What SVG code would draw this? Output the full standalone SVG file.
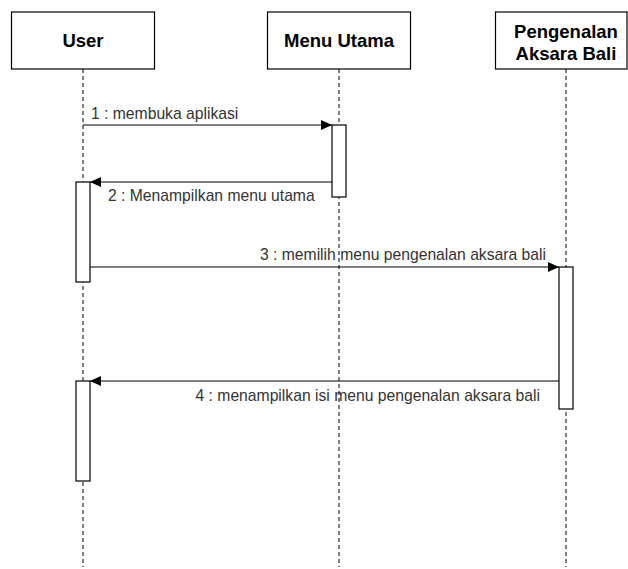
<svg xmlns="http://www.w3.org/2000/svg" width="628" height="569" viewBox="0 0 628 569">
<defs>
<style>
.box{fill:#fff;stroke:#000;stroke-width:1.2}
.act{fill:#fff;stroke:#000;stroke-width:1.2}
.life{stroke:#000;stroke-width:1;stroke-dasharray:4 3;fill:none}
.msg{stroke:#000;stroke-width:1.2;fill:none}
.hd{font-family:"Liberation Sans",Arial,sans-serif;font-weight:bold;font-size:18.5px;fill:#000;text-anchor:middle}
.lb{font-family:"Liberation Sans",Arial,sans-serif;font-size:15.7px;fill:#333}
</style>
<marker id="ah" markerUnits="userSpaceOnUse" markerWidth="12" markerHeight="10" refX="11" refY="5" orient="auto">
<path d="M0,0 L11,5 L0,10 Z" fill="#000"/>
</marker>
</defs>
<rect width="628" height="569" fill="#fff"/>
<g id="lifelines">
<line class="life" x1="83" y1="69" x2="83" y2="567"/>
<line class="life" x1="339" y1="69" x2="339" y2="567"/>
<line class="life" x1="566" y1="69" x2="566" y2="567"/>
</g>
<g id="user">
<rect class="box" x="11.5" y="12" width="143" height="57"/>
<text class="hd" x="83" y="47">User</text>
</g>
<g id="menu-utama">
<rect class="box" x="267.5" y="12" width="143" height="57"/>
<text class="hd" x="339" y="47">Menu Utama</text>
</g>
<g id="pengenalan">
<rect class="box" x="495.5" y="12" width="131.5" height="57"/>
<text class="hd" x="566" y="37.5">Pengenalan</text>
<text class="hd" x="566" y="60">Aksara Bali</text>
</g>
<g id="activations">
<rect class="act" x="332" y="125" width="14" height="72"/>
<rect class="act" x="76" y="182" width="14" height="100"/>
<rect class="act" x="559" y="267" width="14" height="142"/>
<rect class="act" x="76" y="381" width="14" height="100"/>
</g>
<g id="connectors">
<line class="msg" x1="83" y1="125" x2="332" y2="125" marker-end="url(#ah)"/>
<line class="msg" x1="332" y1="182" x2="90" y2="182" marker-end="url(#ah)"/>
<line class="msg" x1="90" y1="267" x2="559" y2="267" marker-end="url(#ah)"/>
<line class="msg" x1="559" y1="381" x2="90" y2="381" marker-end="url(#ah)"/>
</g>
<g id="labels">
<text class="lb" x="91" y="119">1 : membuka aplikasi</text>
<text class="lb" x="108" y="201">2 : Menampilkan menu utama</text>
<text class="lb" x="546" y="260" text-anchor="end">3 : memilih menu pengenalan aksara bali</text>
<text class="lb" x="540" y="401" text-anchor="end">4 : menampilkan isi menu pengenalan aksara bali</text>
</g>
</svg>
